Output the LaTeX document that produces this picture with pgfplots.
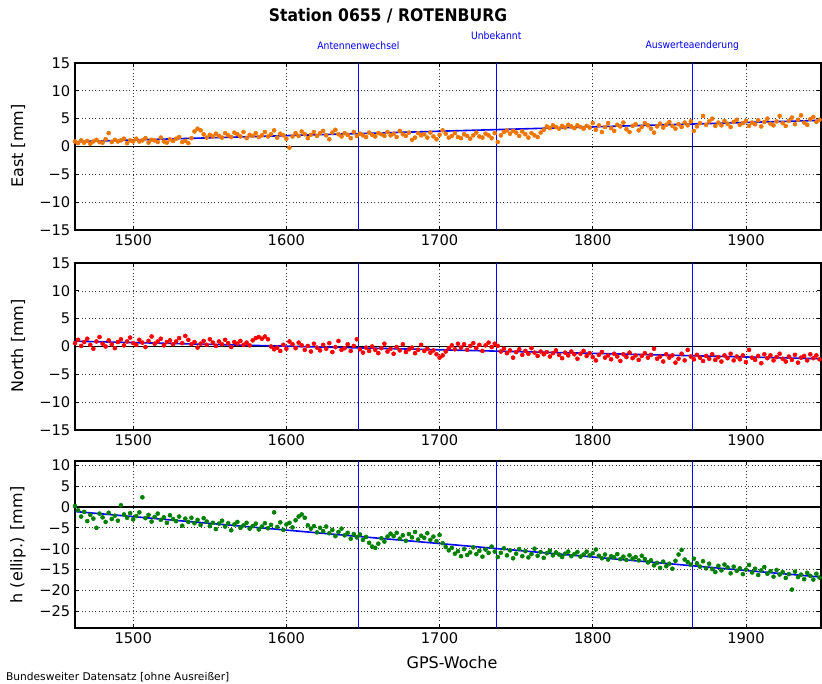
\documentclass[border=0pt]{standalone}
\usepackage{fontspec}
\setmainfont{DejaVu Sans}
\newfontfamily\condfont{DejaVu Sans Condensed}
\usepackage{pgfplots}
\usepackage{pgfplotstable}
\pgfplotsset{compat=1.18}
\definecolor{eastc}{RGB}{238,118,0}
\definecolor{northc}{RGB}{255,0,0}
\definecolor{hc}{RGB}{0,128,0}

% GPS week, East, North, h (ellip.) in mm
\pgfplotstableread{
w e n h
1462 0.9 0.6 0.2
1464 0.6 1.2 -0.8
1466 1.1 0.1 -2.3
1468 0.7 0.8 -1.2
1470 1.0 1.4 -3.4
1472 0.5 0.3 -1.9
1474 0.9 -0.4 -2.8
1476 1.2 0.9 -5.0
1478 0.8 1.7 -1.6
1480 0.7 0.5 -2.5
1482 1.3 0.0 -3.6
1484 2.4 1.1 -1.4
1486 0.8 0.4 -2.9
1488 1.2 -0.3 -2.1
1490 0.9 0.8 -3.3
1492 1.1 1.3 0.4
1494 1.4 0.2 -1.8
1496 0.6 0.9 -2.6
1498 1.1 1.6 -1.5
1500 0.9 0.6 -3.0
1502 1.4 0.3 -2.2
1504 0.9 1.2 -1.3
1506 1.1 0.7 2.3
1508 1.5 -0.1 -2.7
1510 0.7 1.0 -1.9
1512 1.2 1.8 -3.5
1514 1.1 0.5 -2.4
1516 0.8 0.9 -1.6
1518 1.6 1.4 -3.1
1520 0.9 0.2 -2.5
1522 0.7 0.8 -3.8
1524 1.3 1.1 -2.0
1526 1.0 0.4 -2.9
1528 1.4 0.9 -3.4
1530 1.7 1.5 -2.3
1532 0.8 0.6 -4.5
1534 1.0 1.9 -2.8
1536 0.6 1.2 -3.6
1538 1.5 0.4 -2.6
1540 2.7 0.8 -3.9
1542 3.2 -0.2 -3.1
1544 2.9 0.5 -4.3
1546 2.2 1.0 -2.7
1548 1.6 0.3 -3.5
1550 2.1 1.3 -4.6
1552 1.8 0.7 -3.8
1554 2.3 0.1 -5.3
1556 1.9 0.9 -4.0
1558 1.6 0.4 -3.3
1560 2.4 1.2 -4.7
1562 2.0 0.6 -3.9
1564 1.7 -0.1 -5.6
1566 2.5 0.8 -4.2
1568 2.2 0.5 -3.6
1570 1.8 1.0 -5.0
1572 2.6 0.3 -4.4
1574 1.5 0.7 -3.8
1576 2.1 0.2 -5.2
1578 1.9 1.1 -4.6
1580 2.4 1.5 -4.0
1582 1.7 1.7 -5.4
1584 2.0 1.4 -4.7
1586 2.6 1.8 -3.9
1588 1.8 1.3 -5.1
1590 2.2 0.0 -4.3
1592 2.9 -0.5 -1.3
1594 1.6 -0.2 -4.8
1596 2.3 -0.8 -3.7
1598 2.0 0.3 -5.5
1600 1.4 -0.4 -4.2
1602 -0.2 0.9 -3.8
1604 1.8 0.4 -4.9
1606 2.4 -0.3 -3.2
1608 1.9 0.7 -2.3
1610 2.7 0.2 -1.8
1612 2.2 -0.6 -2.6
1614 1.5 0.1 -4.4
1616 2.1 -0.9 -5.2
1618 2.6 0.5 -4.6
1620 1.9 -0.2 -6.1
1622 2.4 -0.7 -5.0
1624 2.8 0.3 -5.8
1626 2.0 -0.4 -4.7
1628 1.3 0.6 -6.3
1630 2.5 -1.0 -5.5
1632 3.0 -0.1 -7.0
1634 2.2 1.0 -6.0
1636 1.8 -0.6 -5.2
1638 2.4 -0.3 -6.8
1640 2.1 0.4 -6.2
1642 1.5 -0.8 -7.6
1644 2.6 0.1 -6.5
1646 1.9 1.3 -7.3
1648 2.3 -0.5 -6.6
1650 2.0 -1.1 -7.9
1652 1.7 -0.2 -7.2
1654 2.5 -0.8 -8.6
1656 2.1 0.0 -9.5
1658 1.8 -0.6 -9.8
1660 2.4 -1.2 -8.8
1662 2.2 -0.3 -7.5
1664 1.9 0.5 -8.3
1666 2.6 -0.9 -7.1
1668 2.0 -0.4 -6.4
1670 2.3 -1.3 -7.0
1672 1.7 -0.1 -6.2
1674 2.8 -0.7 -7.6
1676 2.2 0.4 -6.8
1678 1.9 -1.0 -8.1
1680 2.5 -0.5 -6.5
1682 1.2 -0.2 -7.3
1684 1.6 -1.2 -6.0
1686 2.4 -0.6 -7.8
1688 2.0 0.3 -6.9
1690 2.2 -0.8 -7.4
1692 1.6 -0.4 -6.3
1694 2.5 -1.1 -7.9
1696 1.8 -0.7 -7.1
1698 1.3 -1.4 -8.2
1700 2.1 -2.0 -6.7
1702 2.9 -1.6 -8.7
1704 2.3 -0.9 -9.6
1706 1.6 -0.3 -10.4
1708 1.9 0.2 -9.8
1710 2.4 -0.5 -11.2
1712 1.7 0.5 -10.6
1714 1.5 -0.2 -11.8
1716 2.2 0.4 -10.1
1718 1.9 -0.6 -11.5
1720 1.4 0.1 -10.9
1722 2.0 0.6 -9.7
1724 2.5 -0.3 -11.3
1726 1.8 0.3 -10.5
1728 1.6 -0.8 -11.9
1730 2.3 0.2 -10.2
1732 2.0 0.7 -11.0
1734 1.5 -0.1 -9.5
1736 2.4 0.5 -10.7
1738 0.8 0.1 -12.0
1740 2.0 -0.9 -11.0
1742 2.6 -0.4 -9.9
1744 2.9 -1.2 -11.6
1746 2.3 -0.7 -10.4
1748 2.8 -2.0 -12.3
1750 2.5 -1.0 -11.2
1752 1.9 -0.5 -10.1
1754 2.7 -1.5 -11.8
1756 2.2 -0.8 -10.6
1758 1.6 -1.3 -12.1
1760 2.4 -0.3 -11.3
1762 2.0 -1.1 -10.0
1764 1.7 -1.7 -11.7
1766 2.5 -0.9 -10.8
1768 3.0 -1.4 -12.2
1770 3.6 -1.0 -11.1
1772 3.3 -1.8 -10.5
1774 3.8 -1.2 -11.6
1776 3.5 -0.7 -10.9
1778 3.2 -1.5 -11.4
1780 3.7 -2.1 -12.0
1782 3.4 -1.1 -11.2
1784 3.9 -1.6 -10.7
1786 3.6 -0.9 -11.8
1788 3.3 -1.4 -11.3
1790 3.8 -2.2 -10.8
1792 3.5 -1.3 -11.9
1794 3.2 -0.8 -11.4
1796 3.7 -1.7 -10.7
1798 3.4 -1.2 -11.6
1800 4.2 -1.9 -11.1
1802 3.0 -2.5 -10.2
1804 3.8 -1.5 -11.7
1806 2.6 -1.0 -12.3
1808 3.5 -2.0 -11.4
1810 4.2 -1.6 -12.6
1812 3.3 -2.3 -11.8
1814 2.8 -1.3 -12.1
1816 3.9 -1.8 -11.3
1818 3.6 -2.6 -12.5
1820 4.3 -1.4 -11.9
1822 3.1 -1.9 -12.7
1824 2.6 -1.1 -11.6
1826 3.7 -2.1 -12.4
1828 4.0 -1.6 -12.0
1830 2.9 -2.4 -12.8
1832 3.5 -1.7 -11.7
1834 4.2 -1.2 -12.5
1836 3.8 -2.0 -13.3
1838 3.2 -1.5 -12.8
1840 2.5 -0.4 -14.0
1842 3.6 -2.2 -13.4
1844 4.1 -1.8 -14.6
1846 3.4 -2.7 -13.1
1848 3.9 -1.4 -14.2
1850 4.4 -2.0 -13.6
1852 3.7 -1.6 -14.8
1854 3.2 -2.9 -12.9
1856 4.0 -2.2 -11.4
1858 3.5 -1.3 -10.3
1860 4.3 -2.5 -12.6
1862 3.8 -0.6 -13.2
1864 4.5 -1.8 -13.8
1866 2.8 -2.3 -12.4
1868 3.6 -1.5 -13.5
1870 4.2 -2.0 -14.3
1872 5.5 -2.6 -13.0
1874 3.9 -1.7 -14.7
1876 4.5 -2.2 -13.6
1878 5.0 -1.4 -14.9
1880 3.7 -2.4 -15.6
1882 4.3 -1.9 -14.1
1884 3.8 -2.7 -15.2
1886 4.6 -1.6 -13.8
1888 4.1 -2.1 -14.5
1890 3.5 -1.3 -15.9
1892 4.4 -2.5 -14.3
1894 4.8 -1.8 -15.3
1896 3.9 -2.3 -14.7
1898 4.2 -1.6 -16.1
1900 4.6 -2.8 -15.0
1902 3.7 -0.6 -13.9
1904 4.3 -2.0 -15.7
1906 4.0 -2.4 -14.8
1908 4.7 -1.7 -16.3
1910 3.6 -3.0 -15.2
1912 4.4 -1.4 -14.4
1914 5.0 -2.1 -16.0
1916 4.1 -1.6 -15.4
1918 3.8 -2.5 -16.7
1920 4.5 -1.9 -15.1
1922 5.5 -1.3 -16.2
1924 4.2 -2.2 -15.6
1926 3.7 -2.7 -17.0
1928 4.6 -1.8 -16.1
1930 5.2 -2.4 -19.8
1932 4.0 -1.5 -15.5
1934 4.8 -2.9 -16.8
1936 5.6 -2.0 -16.2
1938 4.3 -1.7 -17.3
1940 3.9 -2.5 -15.8
1942 4.9 -1.4 -16.5
1944 5.3 -2.1 -17.4
1946 4.4 -1.6 -16.0
1948 4.8 -2.3 -16.9
}\stationdata

\pgfplotsset{
  panel/.style={
    scale only axis, width=559.5pt, height=125.25pt,
    anchor=south west,
    xmin=1462, xmax=1949,
    xtick={1500,1600,1700,1800,1900},
    grid=major,
    major grid style={black!80, line width=0.5pt, dash pattern=on 0.75pt off 1.8pt},
    axis line style={line width=0.9pt},
    tick style={black, line width=0.6pt},
    major tick length=3pt,
    tick label style={font=\fontsize{11}{13}\selectfont},
    /pgf/number format/assume math mode=true,
    /pgf/number format/1000 sep={},
  },
  dots/.style={only marks, mark=*, mark size=1.5pt},
  change/.style={blue, line width=1.1pt},
  trend/.style={blue, line width=1.2pt},
  zero/.style={black, line width=0.9pt},
}

\begin{document}
\begin{tikzpicture}
\path[use as bounding box] (0,0) rectangle (616.5pt,512.25pt);

% East
\begin{axis}[panel, at={(56.25pt,339.75pt)},
  ymin=-15, ymax=15, ytick={-15,-10,-5,0,5,10,15},
  yticklabels={−15,−10,−5,0,5,10,15}]
\addplot[zero] coordinates {(1462,0) (1949,0)};
\addplot[dots, color=eastc] table[x=w, y=e] {\stationdata};
\addplot[trend] coordinates {(1462,0.87) (1949,4.7)};
\addplot[change] coordinates {(1647,-15) (1647,15)};
\addplot[change] coordinates {(1737,-15) (1737,15)};
\addplot[change] coordinates {(1865,-15) (1865,15)};
\end{axis}

% North
\begin{axis}[panel, at={(56.25pt,189.75pt)},
  ymin=-15, ymax=15, ytick={-15,-10,-5,0,5,10,15},
  yticklabels={−15,−10,−5,0,5,10,15}]
\addplot[zero] coordinates {(1462,0) (1949,0)};
\addplot[dots, color=northc] table[x=w, y=n] {\stationdata};
\addplot[trend] coordinates {(1462,0.95) (1949,-2.2)};
\addplot[change] coordinates {(1647,-15) (1647,15)};
\addplot[change] coordinates {(1737,-15) (1737,15)};
\addplot[change] coordinates {(1865,-15) (1865,15)};
\end{axis}

% h (ellip.)
\begin{axis}[panel, at={(56.25pt,41.25pt)},
  ymin=-29, ymax=11, ytick={-25,-20,-15,-10,-5,0,5,10},
  yticklabels={−25,−20,−15,−10,−5,0,5,10}]
\addplot[zero] coordinates {(1462,0) (1949,0)};
\addplot[dots, color=hc] table[x=w, y=h] {\stationdata};
\addplot[trend] coordinates {(1462,-1.1) (1949,-16.8)};
\addplot[change] coordinates {(1647,-29) (1647,11)};
\addplot[change] coordinates {(1737,-29) (1737,11)};
\addplot[change] coordinates {(1865,-29) (1865,11)};
\end{axis}

% titles and labels
\node[font=\condfont\bfseries\fontsize{13}{15}\selectfont] at (291pt,500.25pt) {Station 0655 / ROTENBURG};
\node[font=\condfont\fontsize{7.7}{9}\selectfont, text=blue] at (268.8pt,477.75pt) {Antennenwechsel};
\node[font=\condfont\fontsize{7.7}{9}\selectfont, text=blue] at (372.2pt,485.25pt) {Unbekannt};
\node[font=\condfont\fontsize{7.7}{9}\selectfont, text=blue] at (519.25pt,477.75pt) {Auswerteaenderung};

\node[rotate=90, font=\fontsize{12}{14}\selectfont] at (13.5pt,402.75pt) {East [mm]};
\node[rotate=90, font=\fontsize{12}{14}\selectfont] at (13.5pt,252.75pt) {North [mm]};
\node[rotate=90, font=\fontsize{12}{14}\selectfont] at (13.5pt,103.5pt) {h (ellip.) [mm]};
\node[font=\fontsize{12}{14}\selectfont] at (339pt,15pt) {GPS-Woche};
\node[anchor=west, font=\fontsize{8}{9.5}\selectfont] at (1pt,4.5pt) {Bundesweiter Datensatz [ohne Ausreißer]};
\end{tikzpicture}
\end{document}
